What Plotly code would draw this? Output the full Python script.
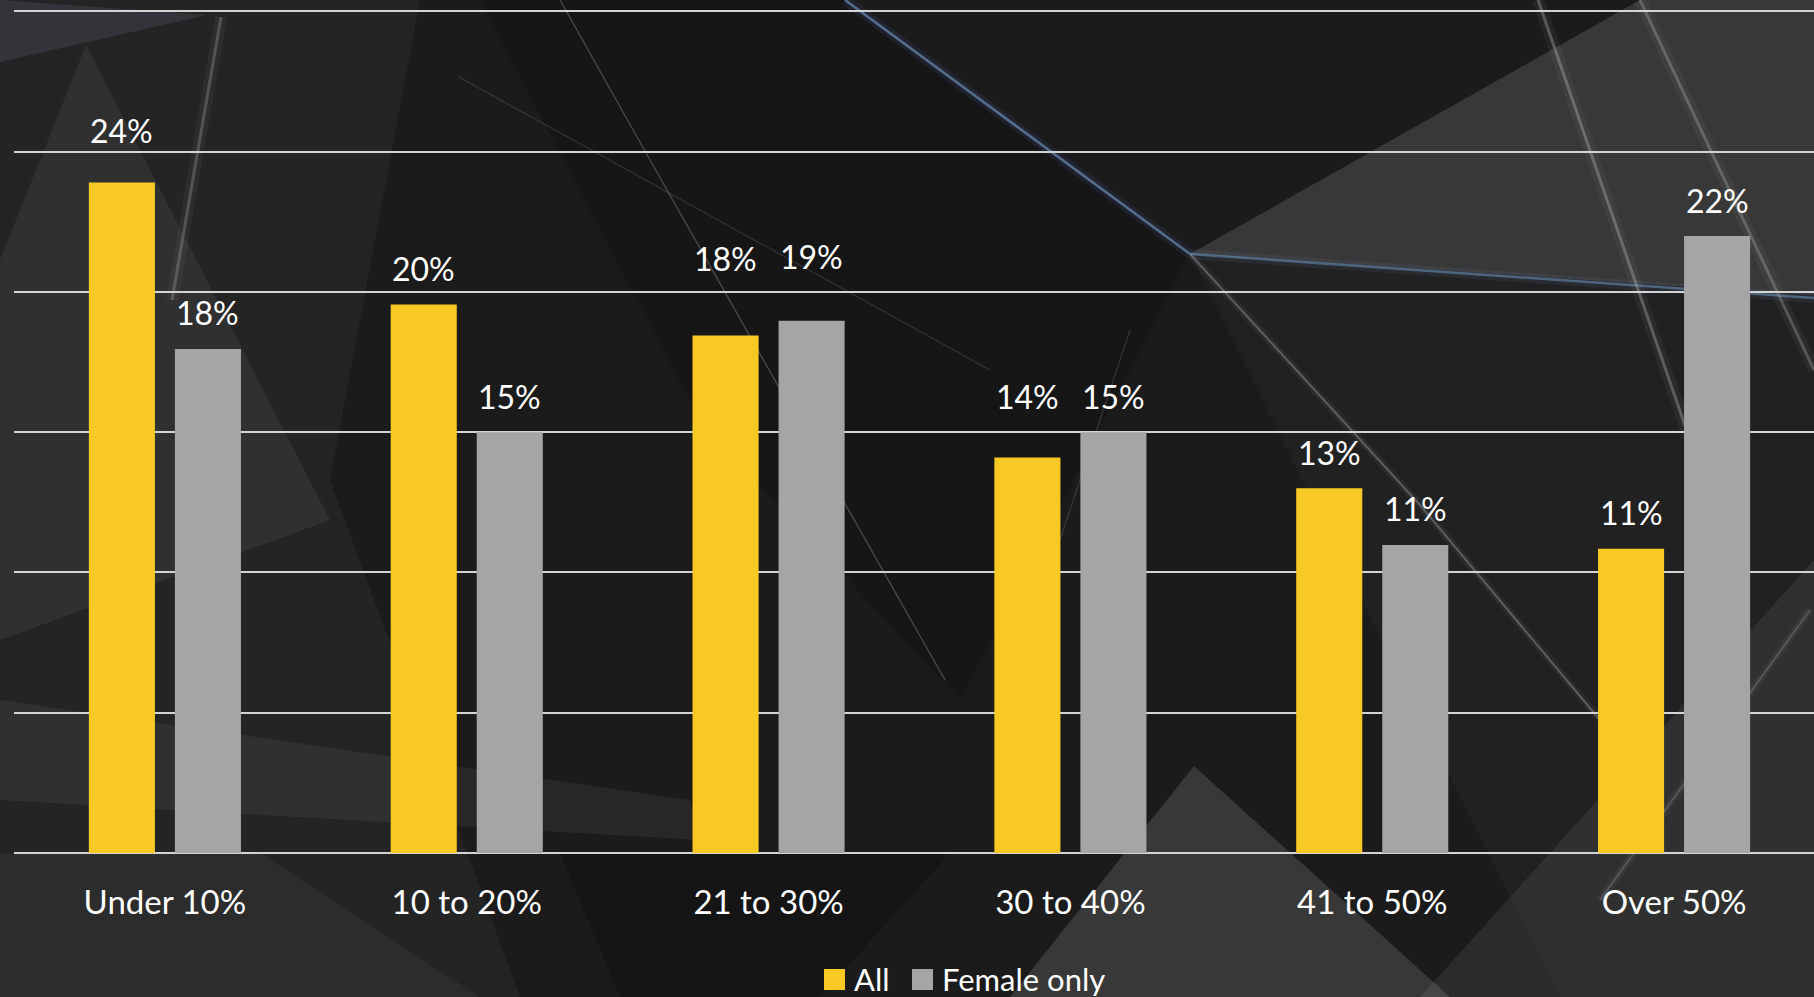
import plotly.graph_objects as go

categories = ["Under 10%", "10 to 20%", "21 to 30%", "30 to 40%", "41 to 50%", "Over 50%"]
all_values = [23.9, 19.55, 18.45, 14.1, 13.0, 10.85]
female_values = [17.97, 15.0, 18.97, 15.0, 10.98, 21.99]
all_labels = ["24%", "20%", "18%", "14%", "13%", "11%"]
female_labels = ["18%", "15%", "19%", "15%", "11%", "22%"]
series_names = ["All", "Female only"]
series_colors = ["#F8C824", "#A5A5A5"]

# extra lift (px) of some data labels, as placed in the original slide
all_label_lift = [16, 0, 41, 25, 0, 0]
female_label_lift = [0, 0, 28, 0, 0, 0]

W, H = 1814, 997
ML, MR, MT, MB = 14, 0, 3, 144
PW, PH = W - ML - MR, H - MT - MB
BARGAP, GROUPGAP = 0.43, 0.232
XMAX = 5.4636
FONT = "Lato, 'Open Sans', sans-serif"


def px(x):
    return (x - ML) / PW


def py(y):
    return (H - MB - y) / PH


def poly(points):
    return "M " + " L ".join(f"{px(x):.5f},{py(y):.5f}" for x, y in points) + " Z"


shapes = []


def add_poly(points, color):
    shapes.append(dict(type="path", path=poly(points), xref="paper", yref="paper",
                       fillcolor=color, line=dict(width=0), layer="below"))


def add_line(points, color, width, glow=None):
    path = "M " + " L ".join(f"{px(x):.5f},{py(y):.5f}" for x, y in points)
    if glow:
        shapes.append(dict(type="path", path=path, xref="paper", yref="paper",
                           line=dict(color=glow, width=width * 4), layer="below"))
    shapes.append(dict(type="path", path=path, xref="paper", yref="paper",
                       line=dict(color=color, width=width), layer="below"))


# background decoration
add_poly([(0, 0), (420, 0), (330, 480), (520, 997), (0, 997)], "rgba(255,255,255,0.045)")
add_poly([(86, 45), (0, 260), (0, 640), (330, 520)], "rgba(255,255,255,0.06)")
add_poly([(0, 0), (207, 15), (0, 62)], "rgba(120,130,160,0.18)")
add_poly([(480, 0), (845, 0), (1190, 254), (960, 700), (700, 420)], "rgba(0,0,0,0.18)")
add_poly([(1190, 254), (1640, 0), (1814, 0), (1814, 295)], "rgba(255,255,255,0.13)")
add_poly([(1190, 254), (1814, 295), (1814, 997), (1560, 997)], "rgba(150,150,170,0.05)")
add_poly([(1194, 766), (1010, 997), (1450, 997)], "rgba(255,255,255,0.13)")
add_poly([(1420, 997), (1814, 560), (1814, 997)], "rgba(255,255,255,0.07)")
add_poly([(0, 700), (690, 800), (700, 840), (0, 800)], "rgba(255,255,255,0.06)")
add_poly([(0, 853), (260, 853), (480, 997), (0, 997)], "rgba(255,255,255,0.04)")
add_poly([(560, 853), (950, 853), (820, 997), (620, 997)], "rgba(0,0,0,0.2)")

add_line([(845, 0), (1190, 254)], "rgba(120,160,205,0.6)", 2.5, "rgba(90,110,200,0.12)")
add_line([(1190, 254), (1814, 298)], "rgba(110,150,190,0.55)", 2.5, "rgba(110,150,190,0.1)")
add_line([(1190, 254), (1420, 505), (1600, 720)], "rgba(210,210,210,0.3)", 2, "rgba(210,210,210,0.06)")
add_line([(1538, 0), (1690, 440)], "rgba(210,210,210,0.3)", 3, "rgba(210,210,210,0.06)")
add_line([(1640, 0), (1814, 370)], "rgba(210,210,210,0.25)", 3, "rgba(210,210,210,0.06)")
add_line([(560, 0), (650, 160), (945, 680)], "rgba(210,210,210,0.25)", 1.5)
add_line([(221, 17), (172, 300)], "rgba(220,220,220,0.22)", 3, "rgba(220,220,220,0.05)")
add_line([(459, 77), (990, 370)], "rgba(210,210,210,0.12)", 1.5)
add_line([(1130, 330), (1010, 690)], "rgba(210,210,210,0.15)", 1.5)
add_line([(1810, 610), (1600, 900)], "rgba(210,210,210,0.2)", 2, "rgba(210,210,210,0.05)")

fig = go.Figure()
for name, vals, color in zip(series_names, [all_values, female_values], series_colors):
    fig.add_trace(go.Bar(x=categories, y=vals, name=name, marker=dict(color=color, line=dict(width=0)),
                         showlegend=False))

slot = (1 - BARGAP) / 2
annotations = []
for s, (labels, vals, lifts) in enumerate([(all_labels, all_values, all_label_lift),
                                           (female_labels, female_values, female_label_lift)]):
    off = (s - 0.5) * slot
    for i, (v, t, lift) in enumerate(zip(vals, labels, lifts)):
        annotations.append(dict(x=i + off, y=v, xref="x", yref="y", text=t, showarrow=False,
                                yanchor="bottom", yshift=14.5 + lift,
                                font=dict(family=FONT, size=32, color="white")))

# custom legend
leg_x = [824, 912]
for name, color, lx in zip(series_names, series_colors, leg_x):
    shapes.append(dict(type="rect", xref="paper", yref="paper", x0=px(lx), x1=px(lx + 21),
                       y0=py(990), y1=py(969), fillcolor=color, line=dict(width=0), layer="above"))
    annotations.append(dict(x=px(lx + 28), y=py(979), xref="paper", yref="paper", text=name,
                            showarrow=False, xanchor="left", yanchor="middle",
                            font=dict(family=FONT, size=31, color="white")))

fig.update_layout(
    width=W, height=H,
    margin=dict(l=ML, r=MR, t=MT, b=MB, pad=0),
    paper_bgcolor="#1b1b1b", plot_bgcolor="rgba(0,0,0,0)",
    barmode="group", bargap=BARGAP, bargroupgap=GROUPGAP,
    shapes=shapes, annotations=annotations,
    xaxis=dict(range=[-0.5, XMAX], showgrid=False, zeroline=False, showline=False, ticks="",
               tickfont=dict(family=FONT, size=33, color="white"), ticklabelstandoff=27),
    yaxis=dict(range=[0, 30.3], dtick=5, showticklabels=False, showgrid=True,
               gridcolor="#d4d4d4", gridwidth=2, zeroline=True, zerolinecolor="#d4d4d4",
               zerolinewidth=2, showline=False),
    showlegend=False,
)

fig.write_html("out.html", config={"displayModeBar": False},
               post_script="document.body.style.margin='0';document.body.style.overflow='hidden';")
